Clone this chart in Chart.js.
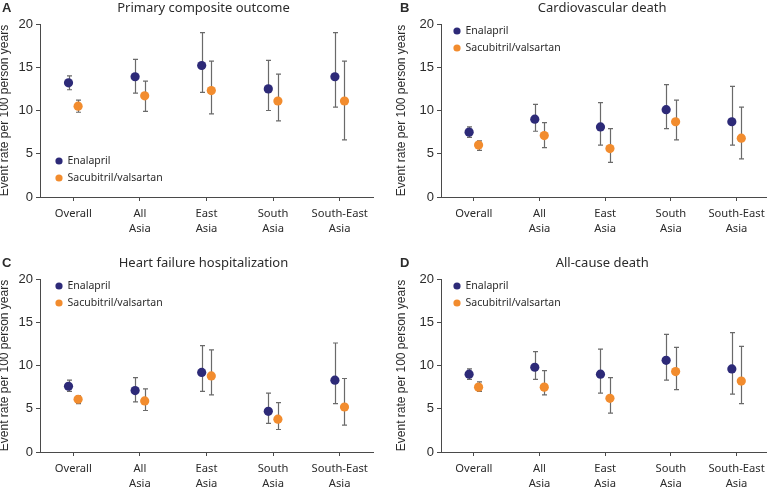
<!DOCTYPE html>
<html>
<head>
<meta charset="utf-8">
<script src="https://cdn.jsdelivr.net/npm/chart.js@4.4.1/dist/chart.umd.min.js"></script>
<style>
  body { margin: 0; background: #fff; overflow: hidden; width: 767px; height: 487px; position: relative; }
  canvas { position: absolute; }
</style>
</head>
<body>
<canvas id="cA" width="384" height="243" style="left:0;top:0"></canvas>
<canvas id="cB" width="390" height="243" style="left:384px;top:0"></canvas>
<canvas id="cC" width="384" height="244" style="left:0;top:243px"></canvas>
<canvas id="cD" width="390" height="244" style="left:384px;top:243px"></canvas>
<script>
// ---- data ----
const categories = ['Overall', 'All Asia', 'East Asia', 'South Asia', 'South-East Asia'];
const seriesNames = ['Enalapril', 'Sacubitril/valsartan'];
const yTicks = [0, 5, 10, 15, 20];

// A: primary composite outcome
const primaryEnal   = [13.2, 13.9, 15.2, 12.5, 13.9];
const primaryEnalLo = [12.4, 12.0, 12.1, 10.0, 10.4];
const primaryEnalHi = [14.0, 15.9, 19.0, 15.8, 19.0];
const primarySac    = [10.5, 11.7, 12.3, 11.1, 11.1];
const primarySacLo  = [9.8, 9.9, 9.6, 8.8, 6.6];
const primarySacHi  = [11.2, 13.4, 15.7, 14.2, 15.7];

// B: cardiovascular death
const cvEnal   = [7.5, 9.0, 8.1, 10.1, 8.7];
const cvEnalLo = [6.9, 7.6, 6.0, 7.9, 6.0];
const cvEnalHi = [8.1, 10.7, 10.9, 13.0, 12.8];
const cvSac    = [6.0, 7.1, 5.6, 8.7, 6.8];
const cvSacLo  = [5.4, 5.7, 4.0, 6.6, 4.4];
const cvSacHi  = [6.5, 8.6, 7.9, 11.2, 10.4];

// C: heart failure hospitalization
const hfEnal   = [7.6, 7.1, 9.2, 4.7, 8.3];
const hfEnalLo = [7.0, 5.8, 7.0, 3.3, 5.6];
const hfEnalHi = [8.3, 8.6, 12.3, 6.8, 12.6];
const hfSac    = [6.1, 5.9, 8.8, 3.8, 5.2];
const hfSacLo  = [5.6, 4.8, 6.6, 2.6, 3.1];
const hfSacHi  = [6.5, 7.3, 11.8, 5.7, 8.5];

// D: all-cause death
const acEnal   = [9.0, 9.8, 9.0, 10.6, 9.6];
const acEnalLo = [8.4, 8.4, 6.8, 8.3, 6.7];
const acEnalHi = [9.6, 11.6, 11.9, 13.6, 13.8];
const acSac    = [7.5, 7.5, 6.2, 9.3, 8.2];
const acSacLo  = [7.0, 6.6, 4.5, 7.2, 5.6];
const acSacHi  = [8.1, 9.4, 8.6, 12.1, 12.2];

const COL_ENAL = '#2d2a78';
const COL_SAC = '#f28c2e';
const AXIS = '#4a4a4a';
const TEXT = '#2b2b2b';

// ---- plugins ----
const errorBars = {
  id: 'errorBars',
  beforeDatasetsDraw(chart) {
    const { ctx, scales: { x, y } } = chart;
    ctx.save();
    ctx.strokeStyle = '#6a6a6a';
    ctx.lineWidth = 1.2;
    chart.data.datasets.forEach(ds => {
      ds.data.forEach((p, i) => {
        const px = Math.round(x.getPixelForValue(p.x)) + 0.5;
        const lo = y.getPixelForValue(ds.lo[i]);
        const hi = y.getPixelForValue(ds.hi[i]);
        ctx.beginPath();
        ctx.moveTo(px, lo); ctx.lineTo(px, hi);
        ctx.moveTo(px - 2.5, lo); ctx.lineTo(px + 2.5, lo);
        ctx.moveTo(px - 2.5, hi); ctx.lineTo(px + 2.5, hi);
        ctx.stroke();
      });
    });
    ctx.restore();
  }
};

const decor = {
  id: 'decor',
  afterDraw(chart, args, o) {
    const { ctx, chartArea: a } = chart;
    ctx.save();
    ctx.fillStyle = TEXT;
    ctx.textBaseline = 'middle';
    // panel letter
    ctx.font = 'bold 13px "Liberation Sans", Arial, sans-serif';
    ctx.textAlign = 'left';
    ctx.fillText(o.letter, o.letterX, o.titleY);
    // title
    ctx.font = '13px "Noto Sans", sans-serif';
    ctx.textAlign = 'center';
    ctx.fillText(o.title, (a.left + a.right) / 2 - 3, o.titleY);
    // y axis title
    ctx.save();
    ctx.translate(o.yTitleX, (a.top + a.bottom) / 2);
    ctx.rotate(-Math.PI / 2);
    ctx.font = '12px "Liberation Sans", Arial, sans-serif';
    ctx.fillText('Event rate per 100 person years', 0, 0);
    ctx.restore();
    // legend
    ctx.font = '10.5px "Noto Sans", sans-serif';
    ctx.textAlign = 'left';
    const ly = o.legendFromBottom ? a.bottom - o.legendY : a.top + o.legendY;
    chart.data.datasets.forEach((ds, i) => {
      const cy = ly + i * 17;
      ctx.fillStyle = ds.backgroundColor;
      ctx.beginPath();
      ctx.arc(a.left + o.legendX, cy, 3.6, 0, Math.PI * 2);
      ctx.fill();
      ctx.fillStyle = TEXT;
      ctx.fillText(ds.label, a.left + o.legendX + 8.5, cy + 0.5);
    });
    ctx.restore();
  }
};

function splitLabel(s) {
  const k = s.lastIndexOf(' ');
  return k < 0 ? [s] : [s.slice(0, k), s.slice(k + 1)];
}

function points(vals, dx) {
  return vals.map((v, i) => ({ x: i + dx, y: v }));
}

function makePanel(id, cfg) {
  const leftW = cfg.right ? 57 : 40;
  new Chart(document.getElementById(id), {
    type: 'scatter',
    data: {
      datasets: [
        { label: seriesNames[0], data: points(cfg.enal, -0.072), lo: cfg.enalLo, hi: cfg.enalHi,
          backgroundColor: COL_ENAL, borderWidth: 0, pointRadius: 4.6 },
        { label: seriesNames[1], data: points(cfg.sac, 0.072), lo: cfg.sacLo, hi: cfg.sacHi,
          backgroundColor: COL_SAC, borderWidth: 0, pointRadius: 4.6 }
      ]
    },
    options: {
      responsive: false,
      animation: false,
      events: [],
      layout: { padding: { top: cfg.top, right: cfg.right ? 3 : 11, left: 0, bottom: 0 } },
      plugins: {
        legend: { display: false },
        tooltip: { enabled: false },
        decor: {
          letter: cfg.letter, title: cfg.title,
          letterX: cfg.right ? 16 : 2, titleY: cfg.titleY,
          yTitleX: cfg.right ? 18 : 5,
          legendX: cfg.right ? 16 : 19, legendY: cfg.legendY, legendFromBottom: cfg.legendFromBottom
        }
      },
      scales: {
        x: {
          type: 'linear',
          min: -0.5, max: 4.5,
          afterBuildTicks: s => { s.ticks = categories.map((c, i) => ({ value: i })); },
          afterFit: s => { s.height = cfg.xH; },
          ticks: {
            callback: v => splitLabel(categories[v]),
            color: TEXT,
            padding: 5,
            font: { family: '"Noto Sans", sans-serif', size: 11.2, lineHeight: 1.35 },
            maxRotation: 0, autoSkip: false
          },
          grid: { drawOnChartArea: false, drawTicks: true, tickLength: 4, color: AXIS },
          border: { color: AXIS, width: 1 }
        },
        y: {
          min: 0, max: 20,
          afterBuildTicks: s => { s.ticks = yTicks.map(v => ({ value: v })); },
          afterFit: s => { s.width = leftW; },
          ticks: {
            color: TEXT,
            padding: 3,
            font: { family: '"Liberation Sans", Arial, sans-serif', size: 13 }
          },
          grid: { drawOnChartArea: false, drawTicks: true, tickLength: 4, color: AXIS },
          border: { color: AXIS, width: 1 }
        }
      }
    },
    plugins: [errorBars, decor]
  });
}

makePanel('cA', { letter: 'A', title: 'Primary composite outcome', top: 24, xH: 46, titleY: 8,
  enal: primaryEnal, enalLo: primaryEnalLo, enalHi: primaryEnalHi,
  sac: primarySac, sacLo: primarySacLo, sacHi: primarySacHi,
  legendY: 36, legendFromBottom: true });
makePanel('cB', { letter: 'B', title: 'Cardiovascular death', top: 24, xH: 46, titleY: 8, right: true,
  enal: cvEnal, enalLo: cvEnalLo, enalHi: cvEnalHi,
  sac: cvSac, sacLo: cvSacLo, sacHi: cvSacHi,
  legendY: 7 });
makePanel('cC', { letter: 'C', title: 'Heart failure hospitalization', top: 36, xH: 35, titleY: 20,
  enal: hfEnal, enalLo: hfEnalLo, enalHi: hfEnalHi,
  sac: hfSac, sacLo: hfSacLo, sacHi: hfSacHi,
  legendY: 7 });
makePanel('cD', { letter: 'D', title: 'All-cause death', top: 36, xH: 35, titleY: 20, right: true,
  enal: acEnal, enalLo: acEnalLo, enalHi: acEnalHi,
  sac: acSac, sacLo: acSacLo, sacHi: acSacHi,
  legendY: 7 });
</script>
</body>
</html>
